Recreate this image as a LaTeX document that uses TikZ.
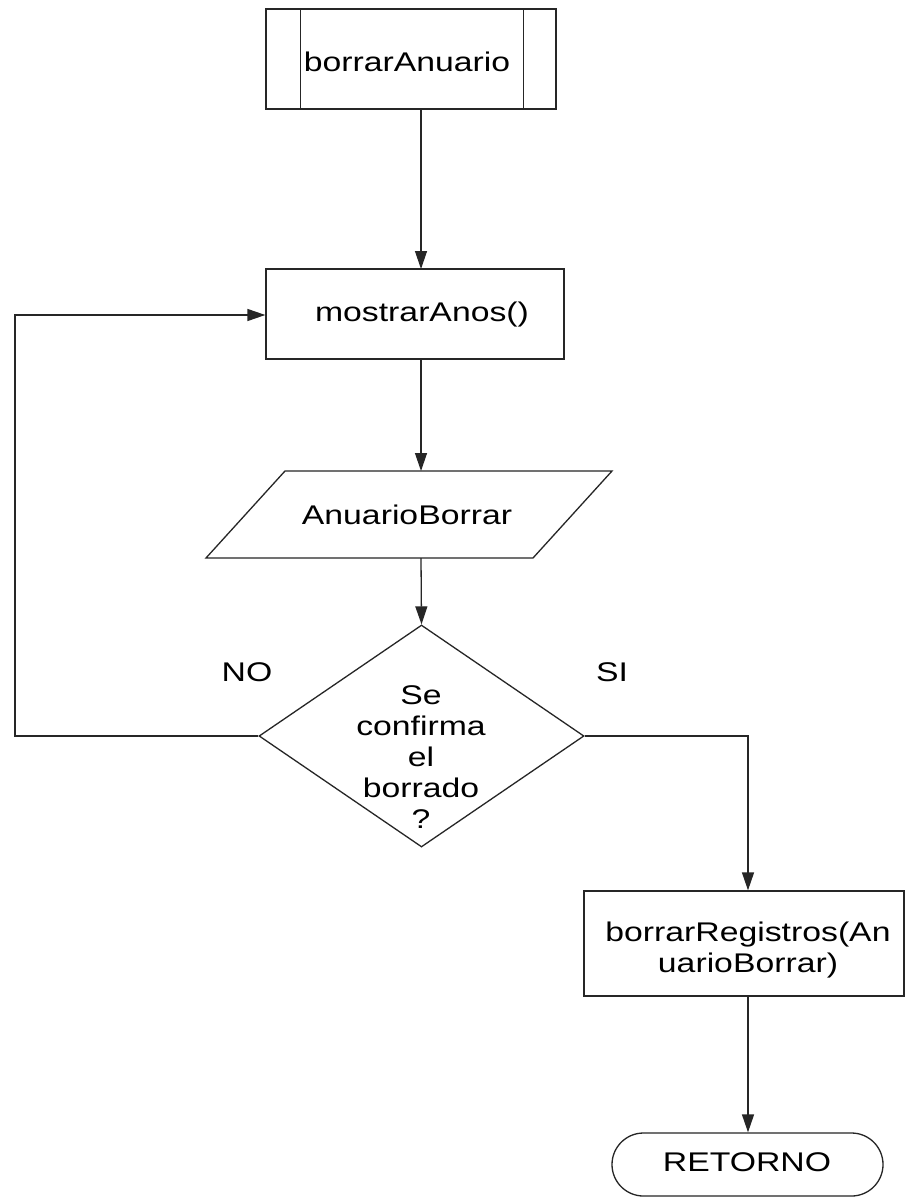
\documentclass[tikz,border=0pt]{standalone}
\usepackage{fontspec}
\setmainfont{Liberation Sans}[FakeStretch=1.25]
\usetikzlibrary{arrows.meta,shapes.geometric,shapes.misc}
\begin{document}
\begin{tikzpicture}[x=1pt,y=-1pt,
  every node/.style={font=\fontsize{27}{31}\selectfont, text=black},
  ln/.style={draw=black!85, line width=1.3pt},
  arr/.style={ln, -{Triangle[length=18pt,width=12pt]}},
  boxrect/.style={ln, rectangle, inner sep=0pt},
  lbl/.style={inner sep=0pt, align=center}]
\useasboundingbox (0,0) rectangle (906,1198);
\fill[white] (0,0) rectangle (906,1198);

% top subroutine box
\node[boxrect, minimum width=290pt, minimum height=100pt] (top) at (411,59) {};
\draw[ln] ([xshift=35pt]top.north west) -- ([xshift=35pt]top.south west);
\draw[ln] ([xshift=-33pt]top.north east) -- ([xshift=-33pt]top.south east);
\node[lbl] (toptxt) at (407,62) {borrarAnuario};

% mostrarAnos
\node[boxrect, minimum width=298pt, minimum height=90pt] (mostrar) at (415,314) {};
\node[lbl] (mostrartxt) at (422,315) {mostrarAnos()};

% parallelogram
\draw[ln] (285,471) -- (612,471) -- (533,558) -- (206,558) -- cycle;
\coordinate (parT) at (421,471);
\coordinate (parB) at (421,558);
\node[lbl] (partxt) at (407,515) {AnuarioBorrar};

% decision
\node[ln, diamond, minimum width=325pt, minimum height=222pt, inner sep=0pt] (dia) at (421.5,736) {};
\node[lbl] (diatxt) at (421,757) {Se\\confirma\\el\\borrado\\?};
\node[lbl] (no) at (247,672) {NO};
\node[lbl] (si) at (612,672) {SI};

% borrarRegistros
\node[boxrect, minimum width=320pt, minimum height=105pt] (reg) at (744,943.5) {};
\node[lbl] (regtxt) at (748,950) {borrarRegistros(An\\uarioBorrar)};

% RETORNO
\node[ln, rounded rectangle, minimum width=271pt, minimum height=63pt, inner sep=0pt] (ret) at (747.5,1164.5) {};
\node[lbl] (rettxt) at (747,1162) {RETORNO};

% connectors
\coordinate (c1) at (421,109);
\coordinate (c2) at (421,269);
\draw[arr] (c1) -- (c2);
\draw[arr] (mostrar.south -| parT) -- (parT);
\draw[arr] (parB) -- (dia.north);
\coordinate (lb) at (15,736);
\coordinate (lt) at (15,315);
\draw[arr] (dia.west) -- (lb) -- (lt) -- (mostrar.west |- lt);
\coordinate (rc) at (748,736);
\draw[arr] (dia.east) -- (rc) -- (rc |- reg.north);
\draw[arr] (rc |- reg.south) -- (rc |- ret.north);
\end{tikzpicture}
\end{document}
